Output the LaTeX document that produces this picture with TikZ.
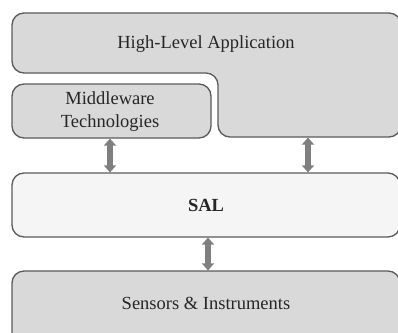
\documentclass[tikz,border=0pt]{standalone}
\usepackage{fontspec}
\setmainfont{Liberation Serif}
\usetikzlibrary{arrows.meta}
\definecolor{boxfill}{HTML}{D9D9D9}
\definecolor{salfill}{HTML}{F5F5F5}
\definecolor{boxline}{HTML}{5A5A5A}
\definecolor{arrowgray}{HTML}{7F7F7F}
\begin{document}
\begin{tikzpicture}[x=1pt,y=-1pt,
  layerbox/.style={draw=boxline,line width=1.3pt,rounded corners=12pt},
  layertext/.style={font=\fontsize{18.5}{23}\selectfont,text=black!85,align=center},
  bidir/.style={draw=arrowgray,line width=5.5pt,
     {Triangle[width=12pt,length=7pt]}-{Triangle[width=12pt,length=7pt]}}]
\useasboundingbox (0,0) rectangle (398,332);
\clip (0,0) rectangle (398,332);
% High-level application (L-shaped)
\draw[layerbox,fill=boxfill] (12,13) -- (401,13) -- (401,137) -- (218,137) -- (218,73) -- (12,73) -- cycle;
\node[layertext] (hla) at (206,44) {High-Level Application};
\coordinate (hlaR) at (308,137.6);
% Middleware
\draw[layerbox,fill=boxfill] (12,84) rectangle (211,138);
\node[layertext] (mw) at (110,112) {Middleware\\Technologies};
\coordinate (mwB) at (110,138.6);
% SAL
\draw[layerbox,fill=salfill] (12,173) rectangle (400,237);
\node[layertext,font=\fontsize{18.5}{23}\selectfont\bfseries] (sal) at (206,205) {SAL};
\coordinate (salTL) at (110,172.4);
\coordinate (salTR) at (308,172.4);
\coordinate (salB) at (208,237.6);
% Sensors
\draw[layerbox,fill=boxfill] (12,271) rectangle (400,350);
\node[layertext] (sens) at (206,303) {Sensors \& Instruments};
\coordinate (sensT) at (208,270.4);
% arrows
\draw[bidir] (mwB) -- (salTL);
\draw[bidir] (hlaR) -- (salTR);
\draw[bidir] (salB) -- (sensT);
\end{tikzpicture}
\end{document}
